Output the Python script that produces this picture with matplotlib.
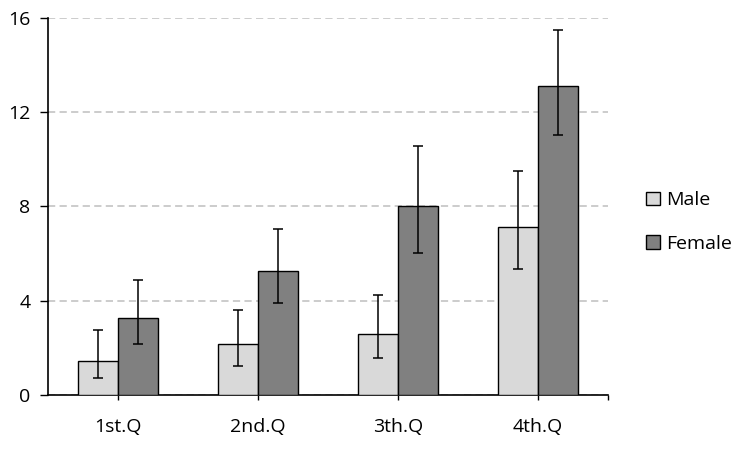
import matplotlib.pyplot as plt
from matplotlib.patches import Patch
import numpy as np

plt.rcParams['font.family'] = ['Open Sans', 'DejaVu Sans']

# values
quarters = ["1st.Q", "2nd.Q", "3th.Q", "4th.Q"]
male = [1.47, 2.16, 2.61, 7.13]
male_lo = [0.75, 1.24, 1.57, 5.35]
male_hi = [2.77, 3.61, 4.25, 9.50]
female = [3.26, 5.28, 8.02, 13.09]
female_lo = [2.17, 3.91, 6.03, 11.03]
female_hi = [4.89, 7.06, 10.58, 15.49]
yticks = [0, 4, 8, 12, 16]

fig = plt.figure(figsize=(7.45, 4.74), dpi=100)
ax = fig.add_axes([0.064, 0.166, 0.7525, 0.7967])

x = np.arange(len(quarters))
w = 0.285
err_kw = dict(ecolor="black", elinewidth=1.1, capsize=3.6, capthick=1.1)

m = np.array(male)
f = np.array(female)
ax.bar(x - w / 2, m, w, color="#d9d9d9", edgecolor="black", linewidth=1.0, zorder=3,
       yerr=[m - np.array(male_lo), np.array(male_hi) - m], error_kw=err_kw)
ax.bar(x + w / 2, f, w, color="#808080", edgecolor="black", linewidth=1.0, zorder=3,
       yerr=[f - np.array(female_lo), np.array(female_hi) - f], error_kw=err_kw)

ax.set_xlim(-0.5, len(quarters) - 0.5)
ax.set_ylim(0, 16)
ax.set_yticks(yticks)
ax.set_xticks(x)
ax.set_xticklabels(quarters)
ax.set_xticks([len(quarters) - 0.5], minor=True)
ax.tick_params(axis="y", length=5.5, width=1.0, pad=7, labelsize=14)
ax.tick_params(axis="x", which="both", length=3.5, width=1.0, pad=13, labelsize=14)

ax.yaxis.grid(True, linestyle=(0, (4, 2.4)), color="#c8c8c8", linewidth=1.3, zorder=0)
ax.set_axisbelow(True)
for s in ["top", "right"]:
    ax.spines[s].set_visible(False)
ax.spines["left"].set_linewidth(1.2)
ax.spines["bottom"].set_linewidth(1.2)

handles = [Patch(facecolor="#d9d9d9", edgecolor="black", linewidth=1.0, label="Male"),
           Patch(facecolor="#808080", edgecolor="black", linewidth=1.0, label="Female")]
fig.legend(handles=handles, loc="center left", bbox_to_anchor=(646 / 745, 1 - 222 / 474),
           frameon=False, fontsize=14, handlelength=0.7, handleheight=0.7,
           handletextpad=0.35, labelspacing=1.3, borderpad=0, borderaxespad=0)

fig.savefig("out.png", dpi=100, facecolor="white")
